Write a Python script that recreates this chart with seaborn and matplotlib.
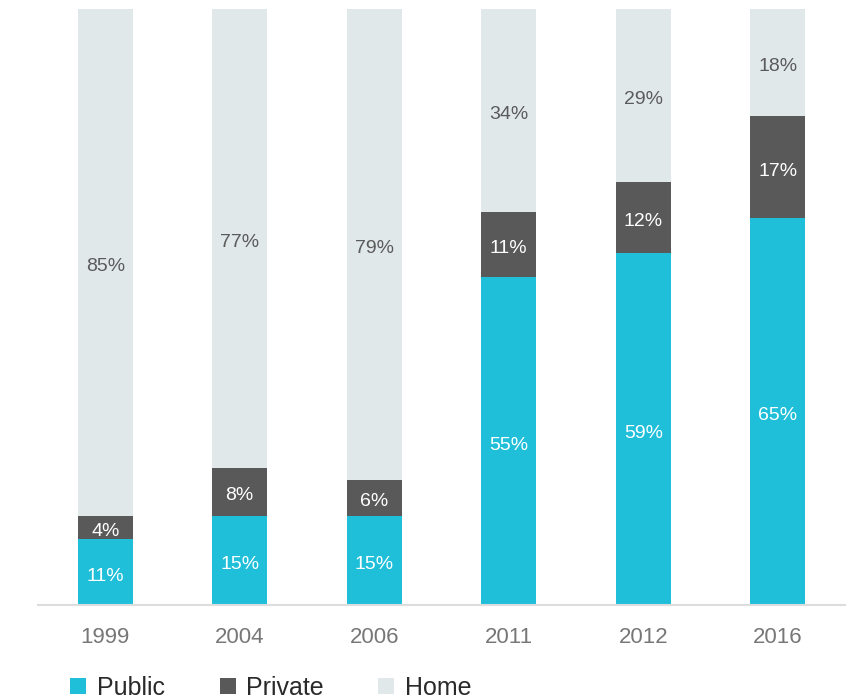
import pandas as pd
import seaborn as sns
import matplotlib.pyplot as plt
from matplotlib.lines import Line2D

years = ["1999", "2004", "2006", "2011", "2012", "2016"]
public = [11, 15, 15, 55, 59, 65]
private = [4, 8, 6, 11, 12, 17]
home = [85, 77, 79, 34, 29, 18]

series = ["Public", "Private", "Home"]
colors = ["#1fbfda", "#595959", "#e1e8ea"]
label_colors = ["white", "white", "#5a5a5a"]

sns.set_style("white")
plt.rcParams["font.family"] = ["Liberation Sans", "DejaVu Sans"]

df = pd.DataFrame({"year": years, "Public": public, "Private": private, "Home": home})

fig = plt.figure(figsize=(8.54, 6.99), dpi=100)
ax = fig.add_axes([38 / 854, 94 / 699, 807 / 854, 596 / 699])

bottom = [0] * len(years)
for name, col, lc in zip(series, colors, label_colors):
    sns.barplot(data=df, x="year", y=name, color=col, width=0.41,
                bottom=bottom, ax=ax, saturation=1, linewidth=0)
    cont = ax.containers[-1]
    ax.bar_label(cont, labels=[f"{v}%" for v in df[name]],
                 label_type="center", color=lc, fontsize=14, padding=-3)
    bottom = [b + v for b, v in zip(bottom, df[name])]

ax.set_xlim(-0.5, 5.5)
ax.set_ylim(0, 100)
ax.set_xlabel("")
ax.set_ylabel("")
ax.set_yticks([])
ax.tick_params(axis="x", length=0, pad=16, labelsize=16, labelcolor="#777777")
for s in ["top", "left", "right"]:
    ax.spines[s].set_visible(False)
ax.spines["bottom"].set_color("#dddddd")
ax.spines["bottom"].set_linewidth(1.5)

handles = [Line2D([], [], marker="s", linestyle="", markersize=11,
                  markerfacecolor=c, markeredgewidth=0) for c in colors]
fig.legend(handles, series, loc="center left", bbox_to_anchor=(71 / 854, 1 - 688 / 699),
           ncol=3, frameon=False, fontsize=18, handlelength=0.6, handletextpad=0.44,
           columnspacing=2.2, labelcolor="#2a2a2a", borderaxespad=0, borderpad=0)

plt.savefig("out.png", dpi=100)
